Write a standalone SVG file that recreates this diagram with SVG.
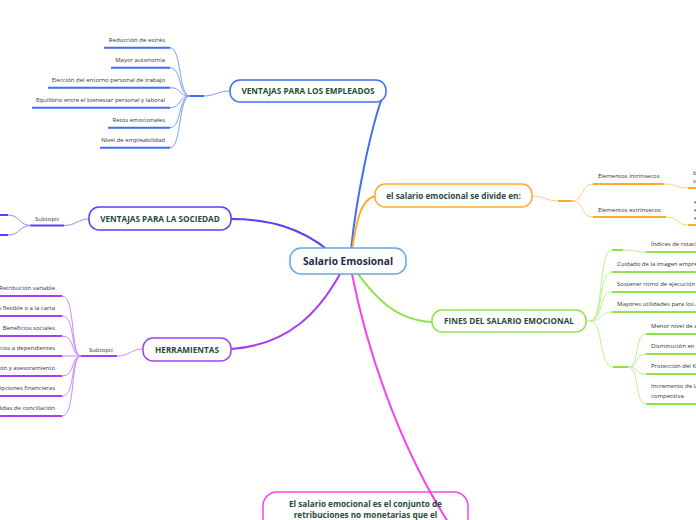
<svg xmlns="http://www.w3.org/2000/svg" width="696" height="520" viewBox="0 0 696 520">
<style>
.node{fill:#fff;stroke-width:1.5}
.nt{font-family:"Open Sans","Liberation Sans",sans-serif;font-weight:bold;font-size:8.2px;fill:#1f4d3c;text-anchor:middle}
.lt{font-family:"Open Sans","Liberation Sans",sans-serif;font-size:6px;fill:#333}
.r{text-anchor:end}
.c{fill:none}
.main{stroke-width:2;fill:none;stroke-linecap:round}
.thin{stroke-width:1;fill:none}
.ul{stroke-width:2;fill:none}
.blue{stroke:#3f6ff6}.lblue{stroke:#7c9cfa}
.ind{stroke:#5b3ff5}.lind{stroke:#9b88f7}
.pur{stroke:#a63ef4}.lpur{stroke:#cb8cf8}
.ora{stroke:#ffa92e}.lora{stroke:#ffcf85}
.grn{stroke:#8ee34a}.lgrn{stroke:#bdf08f}
.pnk{stroke:#f545ea}
</style>
<rect width="696" height="520" fill="#fff"/>
<g id="connectors">
  <path class="main blue" d="M351,250 C356,200 370,130 384,92"/>
  <path class="main ora" d="M352,250 C356,225 360,198 376,196"/>
  <path class="main ind" d="M328,250 C300,228 270,219 231,219"/>
  <path class="main pur" d="M340,274 C320,310 290,345 231,349"/>
  <path class="main grn" d="M358,274 C372,292 392,320 432,322"/>
  <path class="main pnk" d="M352,274 C365,340 395,440 450,525"/>
  <!-- empleados -->
  <path class="thin lblue" d="M204,96 C215,96 218,91 230,91"/>
  <path class="ul blue" d="M188,96 H204"/>
  <path class="thin lblue" d="M170,47.7 C182,47.7 178,96 190,96"/>
  <path class="thin lblue" d="M170,67.7 C182,67.7 178,96 190,96"/>
  <path class="thin lblue" d="M170,87.7 C182,87.7 178,96 190,96"/>
  <path class="thin lblue" d="M170,107.7 C182,107.7 178,96 190,96"/>
  <path class="thin lblue" d="M170,127.7 C182,127.7 178,96 190,96"/>
  <path class="thin lblue" d="M170,147.7 C182,147.7 178,96 190,96"/>
  <path class="ul blue" d="M104,47.7 H170 M111,67.7 H170 M48,87.7 H170 M32,107.7 H170 M108,127.7 H170 M100,147.7 H170"/>
  <!-- sociedad -->
  <path class="thin lind" d="M64,225.5 C76,225.5 78,219 89,219"/>
  <path class="ul ind" d="M30,225.5 H64"/>
  <path class="thin lind" d="M31,225.5 C19,225.5 20,215 8,215"/>
  <path class="thin lind" d="M31,225.5 C19,225.5 20,235 8,235"/>
  <path class="ul ind" d="M-5,215 H8 M-5,235 H8"/>
  <!-- herramientas -->
  <path class="thin lpur" d="M117,356 C130,356 131,349 143,349"/>
  <path class="ul pur" d="M80,356 H117"/>
  <path class="thin lpur" d="M62,296 C76,296 70,356 81,356 M62,316 C76,316 70,356 81,356 M62,336 C76,336 70,356 81,356 M62,356 H81 M62,376 C76,376 70,356 81,356 M62,396 C76,396 70,356 81,356 M62,416 C76,416 70,356 81,356"/>
  <path class="ul pur" d="M-5,296 H62 M-5,316 H62 M-5,336 H62 M-5,356 H62 M-5,376 H62 M-5,396 H62 M-5,416 H62"/>
  <!-- divide -->
  <path class="thin lora" d="M532,196 C545,196 546,201 558,201"/>
  <path class="ul ora" d="M558,201 H572"/>
  <path class="thin lora" d="M572,201 C585,201 580,184 593,184 M572,201 C585,201 580,217 593,217"/>
  <path class="ul ora" d="M593,184 H664 M593,217 H666"/>
  <path class="thin lora" d="M664,184 C677,184 676,188 688,188 M666,217 C679,217 676,225 688,225"/>
  <path class="ul ora" d="M688,188 H700 M688,225 H700"/>
  <!-- fines -->
  <path class="thin lgrn" d="M586,321 H592"/>
  <path class="thin lgrn" d="M590,321 C604,321 598,250 612,250 M590,321 C604,321 598,272 612,272 M590,321 C604,321 598,292 612,292 M590,321 C604,321 598,312 612,312 M590,321 C604,321 598,367 613,367"/>
  <path class="ul grn" d="M612,250 H623 M612,272 H700 M612,292 H700 M612,312 H700 M613,367 H628"/>
  <path class="thin lgrn" d="M623,250 C636,250 634,252 646,252"/>
  <path class="ul grn" d="M646,252 H700"/>
  <path class="thin lgrn" d="M628,367 C640,367 634,334 646,334 M628,367 C640,367 634,354 646,354 M628,367 C640,367 634,374 646,374 M628,367 C640,367 634,404 646,404"/>
  <path class="ul grn" d="M646,334 H700 M646,354 H700 M646,374 H700 M646,404 H700"/>
</g>
<g id="center">
  <rect class="node" x="290" y="248" width="116" height="26" rx="11" stroke="#63a8de"/>
  <text x="348" y="264.6" font-family="Open Sans, Liberation Sans, sans-serif" font-weight="bold" font-size="10.2" fill="#1b2a4a" text-anchor="middle">Salario Emosional</text>
</g>
<g id="empleados">
  <rect class="node" x="230" y="80" width="156" height="22" rx="10" stroke="#3f6ff6"/>
  <text class="nt" x="308" y="94">VENTAJAS PARA LOS EMPLEADOS</text>
  <text class="lt r" x="165" y="41.5">Reducción de estrés</text>
  <text class="lt r" x="165" y="61.5">Mayor autonomía</text>
  <text class="lt r" x="165" y="81.5">Elección del entorno personal de trabajo</text>
  <text class="lt r" x="165" y="101.5">Equilibrio entre el bienestar personal y laboral</text>
  <text class="lt r" x="165" y="121.5">Retos emocionales</text>
  <text class="lt r" x="165" y="141.5">Nivel de empleabilidad</text>
</g>
<g id="sociedad">
  <rect class="node" x="89" y="207" width="142" height="23" rx="10" stroke="#5b3ff5"/>
  <text class="nt" x="160" y="221.5">VENTAJAS PARA LA SOCIEDAD</text>
  <text class="lt" x="35" y="221">Subtopic</text>
</g>
<g id="herramientas">
  <rect class="node" x="143" y="338" width="88" height="23" rx="10" stroke="#a63ef4"/>
  <text class="nt" x="187" y="352.5">HERRAMIENTAS</text>
  <text class="lt" x="89" y="352">Subtopic</text>
  <text class="lt r" x="55" y="290">Retribución variable</text>
  <text class="lt r" x="55" y="310">Retribución flexible o a la carta</text>
  <text class="lt r" x="55" y="330">Beneficios sociales</text>
  <text class="lt r" x="55" y="350">Servicios a dependientes</text>
  <text class="lt r" x="55" y="370">Formación y asesoramiento</text>
  <text class="lt r" x="55" y="390">Opciones financieras</text>
  <text class="lt r" x="55" y="410">Medidas de conciliación</text>
</g>
<g id="divide">
  <rect class="node" x="375" y="184" width="157" height="23" rx="10" stroke="#ffa92e"/>
  <text class="nt" x="453.5" y="198.5">el salario emocional se divide en:</text>
  <text class="lt" x="598" y="178">Elementos intrínsecos</text>
  <text class="lt" x="598" y="211.5">Elementos extrínsecos</text>
  <text class="lt" x="693" y="175">b</text>
  <text class="lt" x="693" y="183">s</text>
  <text class="lt" x="694" y="204">e</text>
  <text class="lt" x="694" y="212">e</text>
  <text class="lt" x="694" y="220">e</text>
</g>
<g id="fines">
  <rect class="node" x="432" y="310" width="154" height="22" rx="10" stroke="#8ee34a"/>
  <text class="nt" x="509" y="324">FINES DEL SALARIO EMOCIONAL</text>
  <text class="lt" x="651" y="245.5">Índices de rotación</text>
  <text class="lt" x="617" y="266">Cuidado de la imagen empresarial</text>
  <text class="lt" x="617" y="286">Sostener ritmo de ejecución</text>
  <text class="lt" x="617" y="306">Mayores utilidades para los accionistas</text>
  <text class="lt" x="651" y="328">Menor nivel de ausentismo</text>
  <text class="lt" x="651" y="348">Disminución en la rotación</text>
  <text class="lt" x="651" y="368">Protección del Know-how</text>
  <text class="lt" x="651" y="388">Incremento de la ventaja</text>
  <text class="lt" x="651" y="398">competitiva</text>
</g>
<g id="definicion">
  <rect x="263" y="492" width="205" height="60" rx="14" fill="none" stroke="#f545ea" stroke-width="1.5"/>
  <text class="nt" x="365.5" y="507">El salario emocional es el conjunto de</text>
  <text class="nt" x="365.5" y="518">retribuciones no monetarias que el</text>
</g>
</svg>
